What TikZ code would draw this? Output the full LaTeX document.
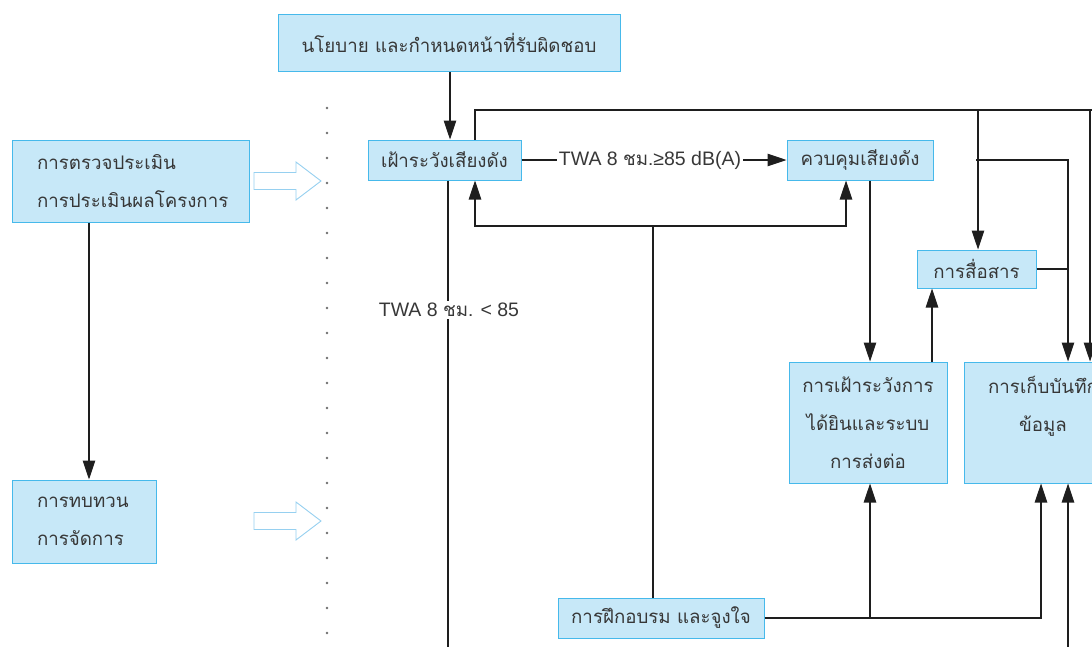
\documentclass[tikz,border=0pt]{standalone}
\usepackage{fontspec}
\setmainfont{Liberation Sans}
\newfontfamily\thai[Script=Thai]{Loma}
\usetikzlibrary{arrows.meta}
\definecolor{boxfill}{RGB}{199,232,248}
\definecolor{boxline}{RGB}{70,185,235}
\definecolor{txt}{RGB}{55,55,55}
\definecolor{ln}{RGB}{30,30,30}
\definecolor{hollowc}{RGB}{150,208,240}
\definecolor{dotc}{RGB}{110,110,110}
\newcommand{\thaismall}{\thai\fontsize{18.7}{38}\selectfont}
\begin{document}
\begin{tikzpicture}[x=1pt,y=-1pt,
  box/.style={draw=boxline, fill=boxfill, line width=1pt, text=txt, inner sep=0pt, font=\thaismall},
  conn/.style={draw=ln, line width=1.1pt},
  arr/.style={conn, -{Triangle[length=19pt,width=12.5pt]}},
  lbl/.style={text=txt, inner sep=2pt, font=\fontsize{19.5}{22}\selectfont},
  hollowarrow/.style={draw=hollowc, fill=white, line width=0.9pt, line join=miter}
]
\useasboundingbox (0,0) rectangle (1092,646);
\clip (0,0) rectangle (1092,646);

% dotted divider
\foreach \y in {108,133,...,633} \fill[dotc] (327,\y) circle (1.3pt);

% hollow arrows
\foreach \c in {181,521}
  \draw[hollowarrow] (254,\c-8.5) -- (296,\c-8.5) -- (296,\c-19) -- (321,\c) -- (296,\c+19) -- (296,\c+8.5) -- (254,\c+8.5) -- cycle;

% boxes
\node[box, minimum width=342pt, minimum height=57pt] (pol) at (449,43) {นโยบาย และกำหนดหน้าที่รับผิดชอบ};
\node[box, minimum width=237pt, minimum height=82pt, text width=187pt, align=left] (aud) at (130.5,181) {การตรวจประเมิน\\การประเมินผลโครงการ};
\node[box, minimum width=144pt, minimum height=83pt, text width=94pt, align=left] (rev) at (84,521.5) {การทบทวน\\การจัดการ};
\node[box, minimum width=153pt, minimum height=40pt] (sur) at (444.5,160) {เฝ้าระวังเสียงดัง};
\node[box, minimum width=146pt, minimum height=40pt] (ctl) at (860,160) {ควบคุมเสียงดัง};
\node[box, minimum width=119pt, minimum height=38pt] (com) at (976.5,269) {การสื่อสาร};
\node[box, minimum width=158pt, minimum height=121pt, align=center] (hear) at (868,422.5) {การเฝ้าระวังการ\\ได้ยินและระบบ\\การส่งต่อ};
\node[box, minimum width=158pt, minimum height=121pt, align=center] (rec) at (1043,422.5) {การเก็บบันทึก\\ข้อมูล\\\mbox{}};
\node[box, minimum width=206pt, minimum height=40pt] (trn) at (661,618) {การฝึกอบรม และจูงใจ};

% labels
\node[lbl] (twa) at (650,160) {TWA 8 {\thaismall ชม.}≥85 dB(A)};
\node[lbl] (twb) at (449,310) {TWA 8 {\thaismall ชม.} < 85};

% coordinates
\coordinate (a1) at (450,0);
\coordinate (tl) at (475,110);
\coordinate (tr) at (1095,110);
\coordinate (t1) at (978,110);
\coordinate (t2) at (1090,110);
\coordinate (m1) at (976,160);
\coordinate (m2) at (1068,160);
\coordinate (c1) at (870,0);
\coordinate (h1) at (932,0);
\coordinate (r0) at (653,226);
\coordinate (r1) at (475,226);
\coordinate (r2) at (846,226);
\coordinate (s1) at (448,650);
\coordinate (b0) at (870,618);
\coordinate (b1) at (1041,618);
\coordinate (b2) at (1068,650);
\coordinate (l1) at (89,0);

% connectors
\draw[arr] (pol.south -| a1) -- (sur.north -| a1);
\draw[conn] (sur.north -| tl) -- (tl) -- (tr);
\draw[arr] (t1) -- (com.north -| t1);
\draw[arr] (t2) -- (rec.north -| t2);
\draw[arr] (m1) -- (m2) -- (rec.north -| m2);
\draw[conn] (com.east) -- (com.east -| m2);
\draw[conn] (sur.east) -- (twa.west);
\draw[arr] (twa.east) -- (ctl.west);
\draw[arr] (ctl.south -| c1) -- (hear.north -| c1);
\draw[arr] (hear.north -| h1) -- (com.south -| h1);
\draw[conn] (trn.north -| r0) -- (r0);
\draw[arr] (r0) -- (r1) -- (sur.south -| r1);
\draw[arr] (r0) -- (r2) -- (ctl.south -| r2);
\draw[conn] (sur.south -| s1) -- (twb.north -| s1);
\draw[conn] (twb.south -| s1) -- (s1);
\draw[arr] (trn.east) -- (b1) -- (rec.south -| b1);
\draw[arr] (b0) -- (hear.south -| b0);
\draw[arr] (b2) -- (rec.south -| b2);
\draw[arr] (aud.south -| l1) -- (rev.north -| l1);
\end{tikzpicture}
\end{document}
